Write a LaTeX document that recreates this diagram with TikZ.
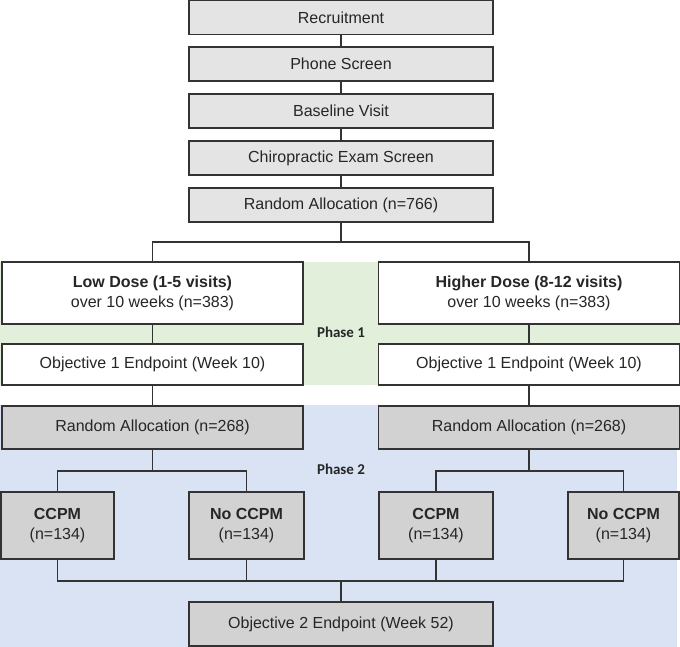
\documentclass[tikz,border=0pt]{standalone}
\usepackage{fontspec}
\setmainfont{Liberation Sans}
\newfontfamily\phasefont{Carlito}
\definecolor{lightbox}{HTML}{E4E4E4}
\definecolor{darkbox}{HTML}{D2D2D2}
\definecolor{phaseone}{HTML}{E2EFDA}
\definecolor{phasetwo}{HTML}{DAE3F3}
\definecolor{edgegray}{HTML}{333333}
\begin{document}
\begin{tikzpicture}
        [x=1pt, y=-1pt,
        box/.style={draw=edgegray, line width=1.5pt, inner sep=0pt, align=center,
            font=\fontsize{16}{20}\selectfont, text=black!85},
        toprow/.style={box, fill=lightbox, minimum width=304, minimum height=34},
        dose/.style={box, fill=white, minimum width=301, minimum height=62},
        endpt/.style={box, fill=white, minimum width=301, minimum height=41},
        alloc/.style={box, fill=darkbox, minimum width=301, minimum height=43},
        arm/.style={box, fill=darkbox, minimum height=67},
        link/.style={draw=edgegray, line width=1.5pt},
        phase/.style={font=\phasefont\bfseries\fontsize{15}{18}\selectfont, text=black!85}]

        \useasboundingbox (0,0) rectangle (680,647);

        \fill [phaseone] (0,262) rectangle (680,385);
        \fill [phasetwo] (0,405) rectangle (677,647);
        \node [phase] (ph1) at (341,332) {Phase 1};
        \node [phase] (ph2) at (341,469) {Phase 2};

        \node [toprow] (rec) at (341,17.5) {Recruitment};
        \node [toprow] (phone) at (341,64) {Phone Screen};
        \node [toprow] (base) at (341,111) {Baseline Visit};
        \node [toprow] (chiro) at (341,158) {Chiropractic Exam Screen};
        \node [toprow] (rand) at (341,205) {Random Allocation (n=766)};

        \draw [link] (rec) -- (phone);
        \draw [link] (phone) -- (base);
        \draw [link] (base) -- (chiro);
        \draw [link] (chiro) -- (rand);

        \node [dose] (low) at (152.5,293) {\textbf{Low Dose (1-5 visits)}\\over 10 weeks (n=383)};
        \node [dose] (high) at (529,293) {\textbf{Higher Dose (8-12 visits)}\\over 10 weeks (n=383)};
        \coordinate (split1) at (341,242);
        \draw [link] (rand) -- (split1) -| (low);
        \draw [link] (split1) -| (high);

        \node [endpt] (obj1L) at (152.5,364.5) {Objective 1 Endpoint (Week 10)};
        \node [endpt] (obj1R) at (529,364.5) {Objective 1 Endpoint (Week 10)};
        \draw [link] (low) -- (obj1L);
        \draw [link] (high) -- (obj1R);

        \node [alloc] (randL) at (152.5,427.5) {Random Allocation (n=268)};
        \node [alloc] (randR) at (529,427.5) {Random Allocation (n=268)};
        \draw [link] (obj1L) -- (randL);
        \draw [link] (obj1R) -- (randR);

        \node [arm, minimum width=113] (ccpmL) at (57.5,525.5) {\textbf{CCPM}\\(n=134)};
        \node [arm, minimum width=115] (noL) at (246.5,525.5) {\textbf{No CCPM}\\(n=134)};
        \node [arm, minimum width=114] (ccpmR) at (436,525.5) {\textbf{CCPM}\\(n=134)};
        \node [arm, minimum width=111] (noR) at (623.5,525.5) {\textbf{No CCPM}\\(n=134)};

        \coordinate (split2L) at (152.5,471);
        \coordinate (split2R) at (529,471);
        \draw [link] (randL) -- (split2L) -| (ccpmL);
        \draw [link] (split2L) -| (noL);
        \draw [link] (randR) -- (split2R) -| (ccpmR);
        \draw [link] (split2R) -| (noR);

        \node [box, fill=darkbox, minimum width=304, minimum height=44] (obj2) at (341,624) {Objective 2 Endpoint (Week 52)};
        \coordinate (merge) at (341,581);
        \draw [link] (ccpmL) |- (merge);
        \draw [link] (noL) |- (merge);
        \draw [link] (ccpmR) |- (merge);
        \draw [link] (noR) |- (merge);
        \draw [link] (merge) -- (obj2);
    \end{tikzpicture}
\end{document}
